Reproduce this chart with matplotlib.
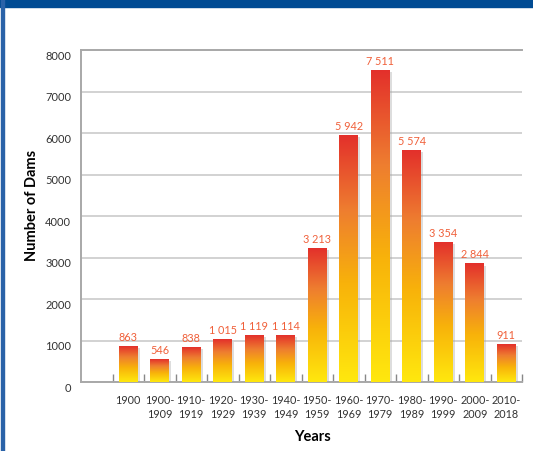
import numpy as np
import matplotlib
matplotlib.use("Agg")
import matplotlib.pyplot as plt
import matplotlib.transforms as mtransforms
from matplotlib.colors import LinearSegmentedColormap
from matplotlib.patches import Rectangle

plt.rcParams['font.family'] = ['Lato', 'DejaVu Sans']

# data
periods = ["1900", "1900-\n1909", "1910-\n1919", "1920-\n1929", "1930-\n1939",
           "1940-\n1949", "1950-\n1959", "1960-\n1969", "1970-\n1979",
           "1980-\n1989", "1990-\n1999", "2000-\n2009", "2010-\n2018"]
dams = [863, 546, 838, 1015, 1119, 1114, 3213, 5942, 7511, 5574, 3354, 2844, 911]

grad = LinearSegmentedColormap.from_list(
    "dams", [(0.0, "#ffe80e"), (0.4, "#f8b20a"), (0.7, "#ee7d30"), (1.0, "#e3302b")])

fig = plt.figure(figsize=(5.33, 4.52), dpi=100)
ax = fig.add_axes([81/533, 69/452, 441/533, 332/452])

# blue frame bits
fig.patches.append(Rectangle((0, 1 - 8/452), 1, 8/452, transform=fig.transFigure,
                             color="#004b93", zorder=0))
fig.patches.append(Rectangle((1/533, 0), 3/533, 1, transform=fig.transFigure,
                             color="#2a62a8", zorder=0))

ax.set_xlim(-0.5, 13.5)
ax.set_ylim(0, 8000)

ax.yaxis.grid(True, color="#cfcfcf", linewidth=1.3)
ax.set_axisbelow(True)
ax.set_yticks(np.arange(0, 8001, 1000))
ax.tick_params(axis="y", length=0, pad=7, labelsize=8, labelcolor="#333333")
off = mtransforms.ScaledTranslation(0, -3/72, fig.dpi_scale_trans)
for lab in ax.get_yticklabels():
    lab.set_transform(lab.get_transform() + off)

xpos = np.arange(1, len(dams) + 1)
ax.set_xticks(xpos)
ax.set_xticklabels(periods, fontsize=7.8, color="#333333", linespacing=1.3, va="top")
ax.tick_params(axis="x", length=0, pad=9)
ax.set_xticks(np.arange(0.5, 13.6, 1), minor=True)
ax.tick_params(axis="x", which="minor", direction="in", length=6, color="#888888", width=1)

w = 0.6
for x, v, in zip(xpos, dams):
    # drop shadow
    ax.add_patch(Rectangle((x - w/2 + 0.07, 0), w, v - 40, facecolor="#a0a0a0",
                           alpha=0.35, edgecolor="none", zorder=2))
    img = np.linspace(0, 1, 256).reshape(-1, 1)
    ax.imshow(img, cmap=grad, origin="lower", aspect="auto",
              extent=(x - w/2, x + w/2, 0, v), zorder=3)
    ax.text(x, v + 110, f"{v:,}".replace(",", " "), ha="center", va="bottom",
            fontsize=7.8, color="#f0603a", zorder=4)

ax.set_xlim(-0.5, 13.5)
ax.set_ylim(0, 8000)

for s in ["left", "top", "bottom"]:
    ax.spines[s].set_color("#a8a8a8")
    ax.spines[s].set_linewidth(1.4)
ax.spines["right"].set_visible(False)

ax.set_ylabel("Number of Dams", fontsize=10.5, fontweight="bold", va="center")
ax.yaxis.set_label_coords(-0.111, 0.536)
fig.text(312/533, 1 - 437/452, "Years", ha="center", va="center",
         fontsize=10.5, fontweight="bold")

fig.savefig("out.png", dpi=100)
